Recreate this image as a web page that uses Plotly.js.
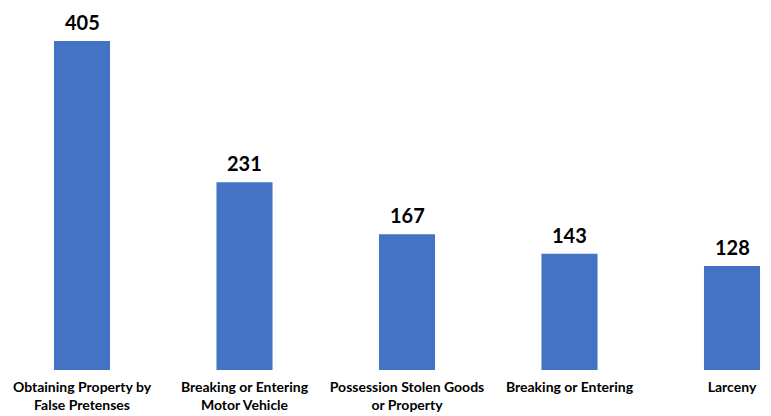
<!DOCTYPE html>
<html><head><meta charset="utf-8">
<script src="https://cdn.plot.ly/plotly-3.0.1.min.js"></script>
<style>html,body{margin:0;padding:0;background:#fff}</style>
</head><body>
<div id="chart" style="width:771px;height:416px"></div>
<script>
const categories = ["Obtaining Property by<br>False Pretenses", "Breaking or Entering<br>Motor Vehicle", "Possession Stolen Goods<br>or Property", "Breaking or Entering", "Larceny"];
const values = [405, 231, 167, 143, 128];
const labels = values.map(String);

const FONT = 'Lato, "Open Sans", sans-serif';

const data = [{
  type: 'bar',
  x: categories,
  y: values,
  marker: {color: '#4472C4'},
  hoverinfo: 'none'
}];

const annotations = categories.map((c, i) => ({
  x: c, y: values[i], xref: 'x', yref: 'y',
  text: '<b>' + labels[i] + '</b>',
  showarrow: false, yanchor: 'bottom', xanchor: 'center', yshift: 5,
  font: {family: FONT, size: 20, color: '#000'}
}));

const layout = {
  width: 771, height: 416,
  margin: {l: 0, r: 0, t: 0, b: 46},
  paper_bgcolor: '#fff', plot_bgcolor: '#fff',
  bargap: 0.655,
  showlegend: false,
  annotations: annotations,
  xaxis: {
    range: [-0.5046, 4.24],
    showline: false, showgrid: false, zeroline: false, ticks: '',
    ticklabelstandoff: 7,
    tickfont: {family: FONT, size: 14, color: '#000', weight: 'bold'},
    automargin: false
  },
  yaxis: {
    range: [0, 455.5],
    visible: false, showgrid: false, zeroline: false
  }
};
Plotly.newPlot('chart', data, layout, {displayModeBar: false, staticPlot: true});
</script>
</body></html>
